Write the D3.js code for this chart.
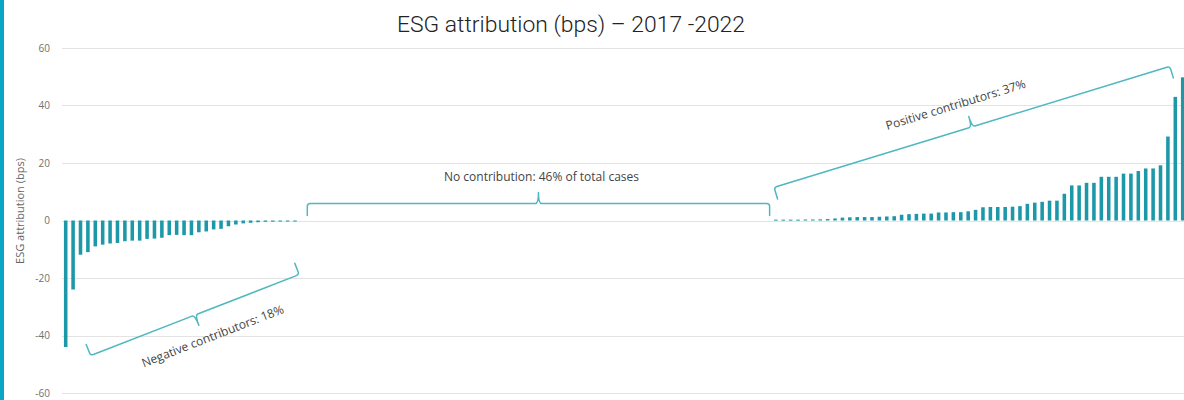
<!DOCTYPE html>
<html>
<head>
<meta charset="utf-8">
<script src="https://cdn.jsdelivr.net/npm/d3@7"></script>
<style>
  html, body { margin: 0; padding: 0; background: #fff; }
  svg { display: block; }
</style>
</head>
<body>
<svg id="chart" width="1184" height="400"></svg>
<script>
// ---- data ----
const negativeValues = [-44, -24, -11.9, -11, -9, -8.4, -8, -7.8, -7.2, -7, -7, -6.4, -6.3, -6, -5.1, -5.0,
  -5.1, -5.1, -4.1, -3.8, -3.1, -2.9, -2, -1.4, -1.0, -0.8, -0.6, -0.45, -0.4, -0.35, -0.35, -0.3];
const neutralValues = [0,0,0,0,0,0,0,0,0,0,0,0,0,0,0,0, 0,0,0,0,0,0,0,0,0,0,0,0,0,0,0,0,
  0,0,0,0,0,0,0,0,0,0,0,0,0,0,0,0, 0,0,0,0,0,0,0,0,0,0,0,0,0,0,0,0];
const positiveValues = [0.3, 0.3, 0.3, 0.3, 0.35, 0.35, 0.4, 0.5, 0.7, 1.0, 1.1, 1.2, 1.2, 1.2, 1.3, 1.4,
  1.5, 2.0, 2.2, 2.3, 2.4, 2.4, 2.8, 2.8, 2.9, 2.9, 3.2, 3.7, 4.6, 4.7, 4.7, 4.7,
  4.8, 5.0, 5.8, 6.2, 6.5, 6.9, 6.9, 9.3, 12.2, 12.2, 13.1, 13.1, 15.2, 15.2, 15.2, 16.3,
  16.3, 17.2, 18.1, 18.1, 19.2, 29.2, 43, 49.8];
const yTicks = [60, 40, 20, 0, -20, -40, -60];
const titleText = "ESG attribution (bps) \u2013 2017 -2022";
const yLabel = "ESG attribution (bps)";
const annotations = [
  { label: "Negative contributors: 18%", i0: 3.6, v0: -47, i1: 31.8, v1: -18.8, side: "below", off: 27, along: 9 },
  { label: "No contribution: 46% of total cases", i0: 32.9, v0: 5.9, i1: 95.4, v1: 5.9, side: "above", off: 26, along: 3 },
  { label: "Positive contributors: 37%", i0: 96.0, v0: 11.5, i1: 149.5, v1: 53.6, side: "above", off: 25, along: -9 }
];

// ---- layout ----
const svg = d3.select("#chart");
const W = 1184, H = 400;
const values = negativeValues.concat(neutralValues, positiveValues);
const data = values.map((v, i) => ({ i, v }));

const x = d3.scaleBand()
  .domain(d3.range(values.length))
  .range([62, 1186.4])
  .paddingInner(0.52)
  .paddingOuter(0.26);
const y = d3.scaleLinear().domain([-60, 60]).range([393, 48]);

const barColor = "#1d98a9";
const bracketColor = "#4fb7c1";

// left border strip
svg.append("rect").attr("x", 0).attr("y", 0).attr("width", 4).attr("height", H).attr("fill", "#0ba6c6");

// gridlines
svg.append("g")
  .selectAll("line")
  .data(yTicks)
  .join("line")
  .attr("x1", 62).attr("x2", W)
  .attr("y1", d => Math.round(y(d)) + 0.5).attr("y2", d => Math.round(y(d)) + 0.5)
  .attr("stroke", "#e3e3e3").attr("stroke-width", 1);

// y axis labels via d3 axis
const yAxis = d3.axisLeft(y).tickValues(yTicks).tickSize(0).tickPadding(0).tickFormat(d3.format("d"));
const gy = svg.append("g").attr("transform", "translate(50,0)").call(yAxis);
gy.select(".domain").remove();
gy.selectAll("text")
  .attr("fill", "#707070")
  .style("font-family", "'Open Sans', sans-serif")
  .style("font-size", "10px")
  .text(d => d < 0 ? "-" + Math.abs(d) : d);

// y axis title
svg.append("text")
  .attr("transform", "translate(24,211) rotate(-90)")
  .attr("text-anchor", "middle")
  .attr("fill", "#666")
  .style("font-family", "'Open Sans', sans-serif")
  .style("font-size", "11px")
  .text(yLabel);

// title
svg.append("text")
  .attr("x", 571).attr("y", 32)
  .attr("text-anchor", "middle")
  .attr("fill", "#222")
  .style("font-family", "Roboto, sans-serif")
  .style("font-weight", "300")
  .style("font-size", "22px")
  .attr("textLength", 348)
  .attr("lengthAdjust", "spacingAndGlyphs")
  .text(titleText);

// bars
svg.append("g")
  .selectAll("rect")
  .data(data.filter(d => d.v !== 0))
  .join("rect")
  .attr("x", d => x(d.i))
  .attr("width", x.bandwidth())
  .attr("y", d => Math.min(y(d.v), y(0)))
  .attr("height", d => Math.max(1, Math.abs(y(d.v) - y(0))))
  .attr("fill", barColor);

// brackets
const step = x.step();
const px = idx => x(0) + idx * step;
annotations.forEach(a => {
  const p0 = [px(a.i0), y(a.v0)];
  const p1 = [px(a.i1), y(a.v1)];
  const dx = p1[0] - p0[0], dy = p1[1] - p0[1];
  const len = Math.hypot(dx, dy);
  const ux = dx / len, uy = dy / len;
  let nx = -uy, ny = ux;
  if (ny < 0) { nx = -nx; ny = -ny; }
  const hs = a.side === "below" ? -1 : 1;
  const hook = 12, tick = 11;
  const h0 = [p0[0] + hs * nx * hook, p0[1] + hs * ny * hook];
  const h1 = [p1[0] + hs * nx * hook, p1[1] + hs * ny * hook];
  const m = [(p0[0] + p1[0]) / 2, (p0[1] + p1[1]) / 2];
  const t = [m[0] - hs * nx * tick, m[1] - hs * ny * tick];
  const c = 3;
  const path = d3.path();
  path.moveTo(h0[0], h0[1]);
  path.lineTo(p0[0] + hs * nx * c, p0[1] + hs * ny * c);
  path.quadraticCurveTo(p0[0], p0[1], p0[0] + ux * c, p0[1] + uy * c);
  path.lineTo(m[0] - ux * c, m[1] - uy * c);
  path.quadraticCurveTo(m[0], m[1], t[0], t[1]);
  path.moveTo(t[0], t[1]);
  path.quadraticCurveTo(m[0], m[1], m[0] + ux * c, m[1] + uy * c);
  path.lineTo(p1[0] - ux * c, p1[1] - uy * c);
  path.quadraticCurveTo(p1[0], p1[1], p1[0] + hs * nx * c, p1[1] + hs * ny * c);
  path.lineTo(h1[0], h1[1]);
  svg.append("path")
    .attr("d", path.toString())
    .attr("fill", "none")
    .attr("stroke", bracketColor)
    .attr("stroke-width", 1.5)
    .attr("stroke-linecap", "round");

  const angle = Math.atan2(dy, dx) * 180 / Math.PI;
  const tx = m[0] - hs * nx * a.off + ux * a.along, ty = m[1] - hs * ny * a.off + uy * a.along;
  svg.append("text")
    .attr("transform", `translate(${tx},${ty}) rotate(${angle})`)
    .attr("text-anchor", "middle")
    .attr("dominant-baseline", "middle")
    .attr("fill", "#444")
    .style("font-family", "'Open Sans', sans-serif")
    .style("font-size", "12px")
    .text(a.label);
});
</script>
</body>
</html>
